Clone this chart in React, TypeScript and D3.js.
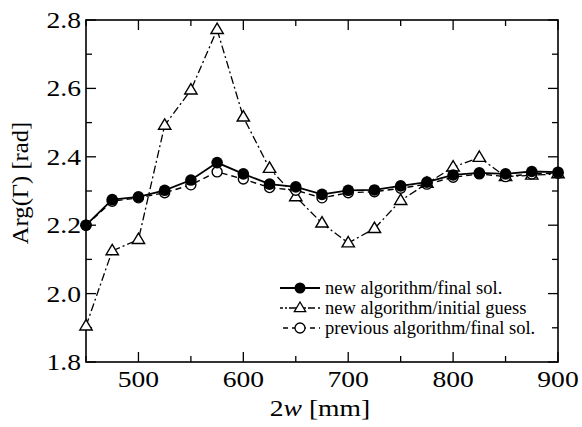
import React from "react";
import * as d3 from "d3";

const xs = [450, 475, 500, 525, 550, 575, 600, 625, 650, 675, 700, 725, 750, 775, 800, 825, 850, 875, 900];
const newFinal = [2.2, 2.275, 2.283, 2.302, 2.332, 2.383, 2.35, 2.32, 2.312, 2.29, 2.302, 2.303, 2.315, 2.326, 2.347, 2.353, 2.35, 2.357, 2.355];
const initialGuess = [1.905, 2.125, 2.158, 2.492, 2.595, 2.772, 2.516, 2.366, 2.283, 2.206, 2.148, 2.19, 2.272, 2.322, 2.37, 2.398, 2.342, 2.346, 2.35];
const prevFinal = [2.2, 2.27, 2.28, 2.295, 2.318, 2.356, 2.335, 2.31, 2.302, 2.28, 2.295, 2.298, 2.308, 2.32, 2.34, 2.35, 2.342, 2.35, 2.352];
const xTicks = [500, 600, 700, 800, 900];
const yTicks = [1.8, 2.0, 2.2, 2.4, 2.6, 2.8];
const legendLabels = ["new algorithm/final sol.", "new algorithm/initial guess", "previous algorithm/final sol."];

const W = 582, H = 427;
const L = 86, R = 558, T = 20, B = 362;

export default function App() {
  const x = d3.scaleLinear().domain([450, 900]).range([L, R]);
  const y = d3.scaleLinear().domain([1.8, 2.8]).range([B, T]);
  const line = d3.line<number>().x((_, i) => x(xs[i])).y((d) => y(d));
  const font = "Liberation Serif, Times New Roman, serif";
  const ts = { fontFamily: font };
  const xMinor = d3.range(450, 901, 50);
  const yMinor = d3.range(18, 29, 1).map((v) => v / 10);
  const tri = (cx: number, cy: number, s = 6.5) =>
    `M${cx},${cy - s}L${cx + s * 0.95},${cy + s * 0.6}L${cx - s * 0.95},${cy + s * 0.6}Z`;
  const dashDot = "8,3,2,3";
  const dashed = "6,4";
  const legendY = [288, 308, 328];
  return (
    <svg width={W} height={H} style={{ position: "absolute", left: 0, top: 0, background: "#fff" }}>
      <rect x={0} y={0} width={W} height={H} fill="#fff" />
      {xMinor.map((v) => {
        const major = v % 100 === 0;
        const len = major ? 10 : 6;
        return (
          <g key={"xt" + v} stroke="#000" strokeWidth={1.3}>
            <line x1={x(v)} x2={x(v)} y1={B} y2={B - len} />
            <line x1={x(v)} x2={x(v)} y1={T} y2={T + len} />
          </g>
        );
      })}
      {yMinor.map((v) => {
        const major = Math.round(v * 10) % 2 === 0;
        const len = major ? 10 : 6;
        return (
          <g key={"yt" + v} stroke="#000" strokeWidth={1.3}>
            <line x1={L} x2={L + len} y1={y(v)} y2={y(v)} />
            <line x1={R} x2={R - len} y1={y(v)} y2={y(v)} />
          </g>
        );
      })}
      <rect x={L} y={T} width={R - L} height={B - T} fill="none" stroke="#000" strokeWidth={1.6} />
      {xTicks.map((v) => (
        <text key={"xl" + v} transform={`translate(${x(v)},387) scale(1.2,1)`} textAnchor="middle" fontSize={23} style={ts}>{v}</text>
      ))}
      {yTicks.map((v) => (
        <text key={"yl" + v} transform={`translate(81,${y(v)}) scale(1.2,1)`} dy="0.35em" textAnchor="end" fontSize={23} style={ts}>{v.toFixed(1)}</text>
      ))}
      <text transform="translate(320,416) scale(1.2,1)" textAnchor="middle" fontSize={23} style={ts}>
        2<tspan fontStyle="italic">w</tspan> [mm]
      </text>
      <text transform="translate(28,183) rotate(-90) scale(1.07,1)" textAnchor="middle" fontSize={23} style={ts}>Arg(Γ) [rad]</text>
      <path d={line(initialGuess) || ""} fill="none" stroke="#000" strokeWidth={1.3} strokeDasharray={dashDot} />
      <path d={line(prevFinal) || ""} fill="none" stroke="#000" strokeWidth={1.4} strokeDasharray={dashed} />
      <path d={line(newFinal) || ""} fill="none" stroke="#000" strokeWidth={1.8} />
      {initialGuess.map((v, i) => (
        <path key={"tr" + i} d={tri(x(xs[i]), y(v))} fill="#fff" stroke="#000" strokeWidth={1.4} />
      ))}
      {prevFinal.map((v, i) => (
        <circle key={"oc" + i} cx={x(xs[i])} cy={y(v)} r={5} fill="#fff" stroke="#000" strokeWidth={1.4} />
      ))}
      {newFinal.map((v, i) => (
        <circle key={"fc" + i} cx={x(xs[i])} cy={y(v)} r={5.8} fill="#000" />
      ))}
      <g>
        <line x1={280} x2={320} y1={legendY[0]} y2={legendY[0]} stroke="#000" strokeWidth={1.8} />
        <circle cx={300} cy={legendY[0]} r={5.5} fill="#000" />
        <line x1={280} x2={320} y1={legendY[1]} y2={legendY[1]} stroke="#000" strokeWidth={1.3} strokeDasharray="3,2,2,2,7,3" />
        <path d={tri(300, legendY[1], 6)} fill="#fff" stroke="#000" strokeWidth={1.3} />
        <line x1={283} x2={320} y1={legendY[2]} y2={legendY[2]} stroke="#000" strokeWidth={1.3} strokeDasharray="5,4" />
        <circle cx={300} cy={legendY[2]} r={5} fill="#fff" stroke="#000" strokeWidth={1.3} />
        {legendLabels.map((t, i) => (
          <text key={t} x={325} y={legendY[i]} dy="0.33em" fontSize={18.5} style={ts}>{t}</text>
        ))}
      </g>
    </svg>
  );
}
